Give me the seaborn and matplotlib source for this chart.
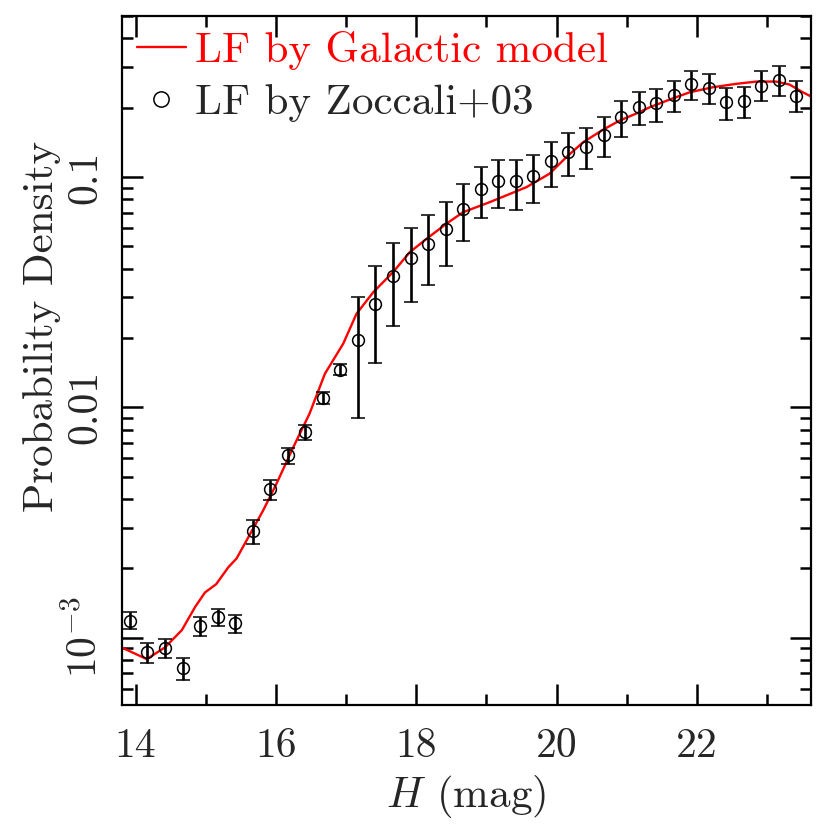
import numpy as np
import matplotlib
matplotlib.use("Agg")
import matplotlib.pyplot as plt
from matplotlib.ticker import FixedLocator, LogLocator, FuncFormatter, MultipleLocator, NullFormatter
from matplotlib.lines import Line2D
import seaborn as sns

# Zoccali+03 H-band luminosity function
h_obs = [13.92, 14.17, 14.42, 14.67, 14.92, 15.17, 15.42, 15.67, 15.92, 16.17,
         16.42, 16.67, 16.92, 17.17, 17.42, 17.67, 17.92, 18.17, 18.42, 18.67,
         18.92, 19.17, 19.42, 19.67, 19.92, 20.17, 20.42, 20.67, 20.92, 21.17,
         21.42, 21.67, 21.92, 22.17, 22.42, 22.67, 22.92, 23.17, 23.42]
pd_obs = [1.18e-3, 8.63e-4, 8.98e-4, 7.35e-4, 1.122e-3, 1.224e-3, 1.152e-3, 2.90e-3, 4.40e-3, 6.19e-3,
          7.81e-3, 1.101e-2, 1.457e-2, 1.967e-2, 2.818e-2, 3.70e-2, 4.43e-2, 5.13e-2, 5.92e-2, 7.28e-2,
          8.89e-2, 9.65e-2, 9.56e-2, 0.1008, 0.1168, 0.1290, 0.1356, 0.1529, 0.1817, 0.2023,
          0.2090, 0.2264, 0.2537, 0.2438, 0.2111, 0.2132, 0.2487, 0.2640, 0.2257]
pd_lo = [1.085e-3, 7.73e-4, 8.12e-4, 6.54e-4, 1.015e-3, 1.122e-3, 1.049e-3, 2.545e-3, 3.95e-3, 5.70e-3,
         7.24e-3, 1.038e-2, 1.381e-2, 9.02e-3, 1.557e-2, 2.262e-2, 2.864e-2, 3.41e-2, 4.10e-2, 5.27e-2,
         6.65e-2, 7.32e-2, 7.21e-2, 7.70e-2, 9.03e-2, 0.1015, 0.1078, 0.1227, 0.1498, 0.1681,
         0.1741, 0.1910, 0.2162, 0.2078, 0.1776, 0.1806, 0.2148, 0.2257, 0.1910]
pd_hi = [1.286e-3, 9.44e-4, 9.82e-4, 8.12e-4, 1.231e-3, 1.325e-3, 1.252e-3, 3.235e-3, 4.824e-3, 6.69e-3,
         8.35e-3, 1.165e-2, 1.537e-2, 3.01e-2, 4.09e-2, 5.16e-2, 6.02e-2, 6.81e-2, 7.78e-2, 9.28e-2,
         0.1103, 0.1191, 0.1187, 0.1248, 0.1416, 0.1556, 0.1635, 0.1817, 0.2132, 0.2349,
         0.2421, 0.2622, 0.2897, 0.2803, 0.2438, 0.2470, 0.2897, 0.3037, 0.2603]

# Galactic model LF
h_model = [13.80, 14.16, 14.42, 14.66, 14.85, 14.99, 15.15, 15.32, 15.44, 15.82,
           16.01, 16.25, 16.48, 16.70, 16.96, 17.15, 17.39, 17.67, 17.91, 18.15,
           18.43, 18.67, 19.05, 19.57, 19.90, 20.14, 20.38, 20.66, 20.90, 21.18,
           21.33, 21.64, 21.90, 22.23, 22.56, 22.85, 23.13, 23.32, 23.51, 23.65]
pd_model = [9.07e-4, 8.07e-4, 9.07e-4, 1.078e-3, 1.360e-3, 1.571e-3, 1.707e-3, 2.017e-3, 2.206e-3, 3.573e-3,
            4.667e-3, 6.726e-3, 9.39e-3, 1.401e-2, 1.889e-2, 2.55e-2, 3.164e-2, 3.864e-2, 4.72e-2, 5.395e-2,
            6.266e-2, 7.037e-2, 7.78e-2, 9.03e-2, 0.1033, 0.1219, 0.1416, 0.1602, 0.1758, 0.1910,
            0.2009, 0.2184, 0.2333, 0.2453, 0.2537, 0.2596, 0.2596, 0.2520, 0.2333, 0.2219]

sns.set_theme(style="ticks")
plt.rcParams.update({
    "font.family": ["cmr10", "DejaVu Serif"],
    "mathtext.fontset": "cm",
    "axes.formatter.use_mathtext": True,
    "axes.linewidth": 1.6,
    "axes.edgecolor": "black",
})

FS = 30      # tick labels
FS_TXT = 31  # legend / axis labels

fig = plt.figure(figsize=(8.3, 8.4), dpi=100)
ax = fig.add_axes([121.5 / 830, 1 - 705 / 840, 689 / 830, 689 / 840])

sns.lineplot(x=h_model, y=pd_model, color="red", linewidth=1.7, ax=ax, sort=False)

obs = np.array(pd_obs)
yerr = [obs - np.array(pd_lo), np.array(pd_hi) - obs]
ax.errorbar(h_obs, pd_obs, yerr=yerr, fmt="o", mfc="none", mec="black", mew=1.1,
            ms=8.5, ecolor="black", elinewidth=1.9, capsize=5, capthick=1.9)

ax.set_yscale("log")
ax.set_xlim(13.80, 23.62)
ax.set_ylim(5.1e-4, 0.5)

ax.xaxis.set_major_locator(MultipleLocator(2))
ax.xaxis.set_minor_locator(MultipleLocator(1))
ax.yaxis.set_major_locator(FixedLocator([1e-3, 1e-2, 1e-1]))
ax.yaxis.set_minor_locator(LogLocator(base=10, subs=np.arange(2, 10)))
ax.yaxis.set_minor_formatter(NullFormatter())

ylabels = {1e-3: r"$10^{-3}$", 1e-2: "0.01", 1e-1: "0.1"}
ax.yaxis.set_major_formatter(FuncFormatter(lambda v, p: min(ylabels.items(), key=lambda kv: abs(np.log10(kv[0]) - np.log10(v)))[1]))
ax.xaxis.set_major_formatter(FuncFormatter(lambda v, p: f"{int(round(v))}"))

ax.tick_params(which="both", direction="in", top=True, right=True, color="black", width=1.8)
ax.tick_params(which="major", length=15)
ax.tick_params(which="minor", length=8)
ax.tick_params(axis="x", which="major", labelsize=FS, pad=16)
ax.tick_params(axis="y", which="major", labelsize=FS, pad=12)
for lbl in ax.get_yticklabels():
    lbl.set_rotation(90)
    lbl.set_va("center")

ax.set_xlabel(r"$H$ (mag)", fontsize=FS_TXT, labelpad=6)
ax.set_ylabel("Probability Density", fontsize=FS_TXT)
ax.yaxis.set_label_coords(-0.088, 0.55)

handles = [Line2D([], [], color="red", lw=1.7),
           Line2D([], [], ls="none", marker="o", mfc="none", mec="black", mew=1.1, ms=11)]
leg = ax.legend(handles, ["LF by Galactic model", "LF by Zoccali+03"], loc="upper left",
                frameon=False, fontsize=FS_TXT, handlelength=1.15, handletextpad=0.2,
                borderaxespad=0.1, borderpad=0.25, labelspacing=0.32)
leg.get_texts()[0].set_color("red")

fig.savefig("out.png", dpi=100)
